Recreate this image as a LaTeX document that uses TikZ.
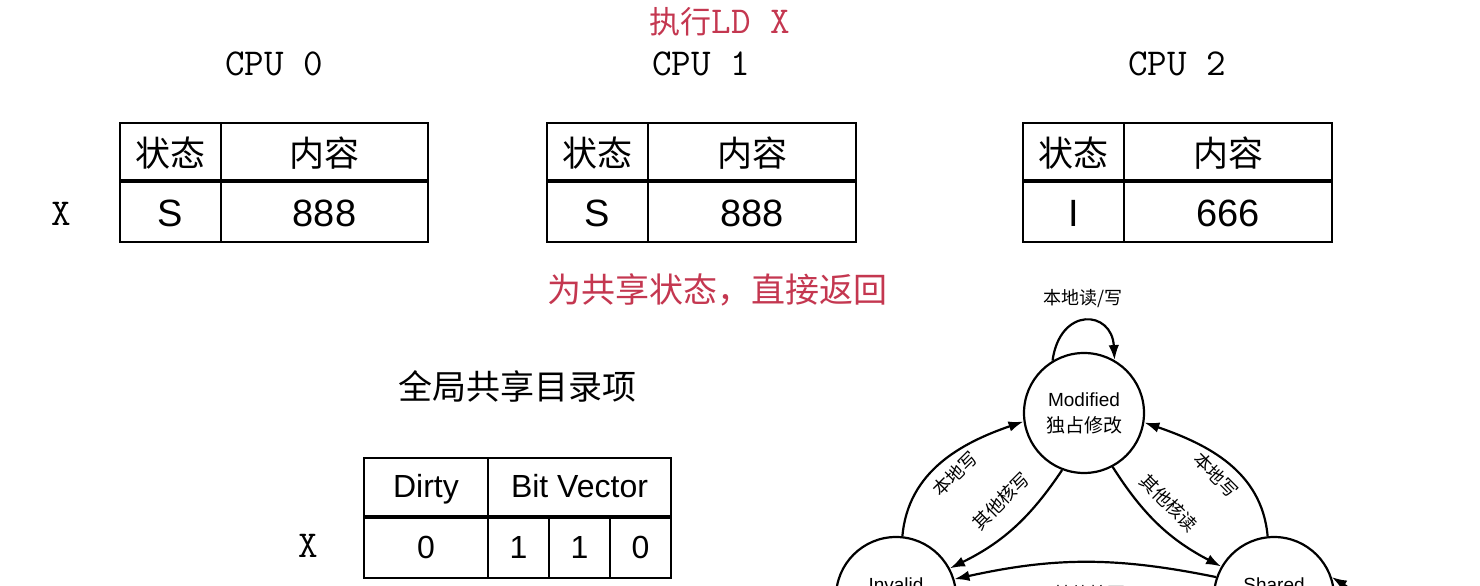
\documentclass[tikz,border=0pt]{standalone}
\usepackage{fontspec}
\setmainfont{Liberation Sans}
\newfontfamily\cjk{Noto Sans CJK SC}
\usetikzlibrary{arrows.meta}
\definecolor{notered}{RGB}{196,55,80}

\tikzset{
    tbl/.style={line width=1.8pt},
    midline/.style={line width=3.6pt},
    cpulabel/.style={font=\ttfamily\fontsize{38}{38}\selectfont},
    hdr/.style={font=\cjk\fontsize{35}{35}\selectfont},
    val/.style={font=\fontsize{38}{38}\selectfont},
    dirval/.style={anchor=base, font=\fontsize{32}{32}\selectfont},
    note/.style={text=notered, font=\cjk\fontsize{34}{34}\selectfont},
    cstate/.style={circle, draw, line width=2.2pt, minimum size=120pt, inner sep=0pt, align=center, font=\fontsize{19}{26}\selectfont},
    sname/.style={font=\fontsize{19}{19}\selectfont},
    trans/.style={->, line width=2.2pt},
    translabel/.style={font=\cjk\fontsize{18}{18}\selectfont},
}

\begin{document}
\begin{tikzpicture}[>={Latex[length=15pt,width=10.5pt]}, x=1pt, y=1pt]
    \useasboundingbox (0, 0) rectangle (1480, 586);
    %\draw [help lines, thin, step=50] (0, 0) grid (1480, 586);
    \node[text=notered, font=\cjk\fontsize{31}{31}\selectfont] (cmd) at (720, 564) {执行{\ttfamily\fontsize{38}{38}\selectfont LD X}};
    \node[cpulabel] (cpu0) at (274, 522) {CPU 0};
    \node[cpulabel] (cpu1) at (701, 522) {CPU 1};
    \node[cpulabel] (cpu2) at (1177, 522) {CPU 2};
    \node[cpulabel] (linex) at (61, 372) {X};

    % CPU 0
    \draw[tbl] (120, 344) rectangle (428, 463);
    \draw[tbl] (221, 344) -- (221, 463);
    \draw[midline] (120, 405) -- (428, 405);
    \node[hdr] (st0) at (170.5, 433) {状态};
    \node[hdr] (ct0) at (324.5, 433) {内容};
    \node[val] (s0) at (170.5, 373) {S};
    \node[val] (v0) at (324.5, 373) {888};

    % CPU 1
    \draw[tbl] (547, 344) rectangle (856, 463);
    \draw[tbl] (648, 344) -- (648, 463);
    \draw[midline] (547, 405) -- (856, 405);
    \node[hdr] (st1) at (597.5, 433) {状态};
    \node[hdr] (ct1) at (752, 433) {内容};
    \node[val] (s1) at (597.5, 373) {S};
    \node[val] (v1) at (752, 373) {888};

    % CPU 2
    \draw[tbl] (1023, 344) rectangle (1332, 463);
    \draw[tbl] (1124, 344) -- (1124, 463);
    \draw[midline] (1023, 405) -- (1332, 405);
    \node[hdr] (st2) at (1073.5, 433) {状态};
    \node[hdr] (ct2) at (1228, 433) {内容};
    \node[val] (s2) at (1073.5, 373) {I};
    \node[val] (v2) at (1228, 373) {666};

    \node[note] (result) at (717.5, 296) {为共享状态，直接返回};

    % directory
    \node[note, text=black] (dirtitle) at (517.5, 200) {全局共享目录项};
    \node[cpulabel] (dirx) at (308, 40) {X};
    \draw[tbl] (364, 8) rectangle (671, 128);
    \draw[tbl] (488, 8) -- (488, 128);
    \draw[tbl] (549, 8) -- (549, 69);
    \draw[tbl] (610, 8) -- (610, 69);
    \draw[midline] (364, 69) -- (671, 69);
    \node[dirval] (dirty) at (426, 88) {Dirty};
    \node[dirval] (bitvec) at (579.5, 88) {Bit Vector};
    \node[dirval] (d0) at (426, 27) {0};
    \node[dirval] (b0) at (518.5, 27) {1};
    \node[dirval] (b1) at (579.5, 27) {1};
    \node[dirval] (b2) at (640.5, 27) {0};

    % states
    \node[cstate] (modified) at (1084, 173) {Modified\\{\cjk 独占修改}};
    \node[cstate] (invalid) at (896, -11) {};
    \node[sname] (invalidname) at (896, 1) {Invalid};
    \node[cstate] (shared) at (1274, -11) {};
    \node[sname] (sharedname) at (1274, 1) {Shared};

    \draw[trans] (modified.121) .. controls (1060, 280) and (1112, 276) .. (modified.60);
    \node[translabel] (loopm) at (1083, 287) {本地读/写};
    \draw[trans] (invalid.84) to[out=85, in=199] (modified.188);
    \node[translabel, rotate=45] (lwi) at (955, 112) {本地写};
    \draw[trans] (modified.249) to[bend left=15] (invalid.28);
    \node[translabel, rotate=45] (owm) at (1001, 85) {其他核写};
    \draw[trans] (modified.298) to[bend right=15] (shared.150);
    \node[translabel, rotate=-45] (orm) at (1169, 83) {其他核读};
    \draw[trans] (shared.96) to[out=95, in=-19] (modified.-9);
    \node[translabel, rotate=-45] (lws) at (1216, 111) {本地写};
    \draw[trans] (shared.161) to[bend right=12] (invalid.17);
    \node[translabel] (ows) at (1089, -8) {其他核写};
    \draw[trans] (shared.-35) .. controls (1385, -75) and (1372, -16) .. (shared.19);
\end{tikzpicture}
\end{document}
